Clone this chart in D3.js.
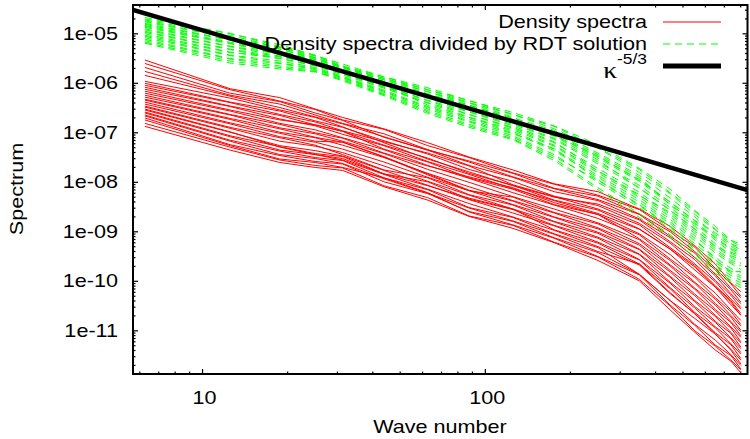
<!DOCTYPE html>
<html>
<head>
<meta charset="utf-8">
<script src="https://cdn.jsdelivr.net/npm/d3@7"></script>
<style>
  body { margin: 0; background: #fff; }
  svg { display: block; }
</style>
</head>
<body>
<svg id="chart" width="750" height="439"></svg>
<script>
const waveNumbers = [6.28, 12.57, 18.85, 25.13, 31.42, 43.98, 62.83, 87.96, 125.7, 175.9, 251.3, 351.9, 452.4, 552.9, 653.5, 741.4, 804.2];

// log10 of the density spectra (one row per curve)
const densityLog10 = [
  [-5.54,-6.12,-6.30,-6.53,-6.70,-6.93,-7.21,-7.50,-7.76,-8.04,-8.20,-8.55,-8.90,-9.29,-9.66,-10.04,-10.22],
  [-5.61,-6.14,-6.37,-6.54,-6.75,-6.94,-7.27,-7.51,-7.82,-8.05,-8.27,-8.56,-8.98,-9.32,-9.75,-10.06,-10.31],
  [-5.69,-6.21,-6.38,-6.61,-6.76,-7.10,-7.36,-7.58,-7.83,-8.13,-8.29,-8.65,-9.01,-9.41,-9.78,-10.15,-10.34],
  [-5.77,-6.25,-6.43,-6.65,-6.82,-7.03,-7.35,-7.60,-7.90,-8.14,-8.36,-8.66,-9.10,-9.44,-9.87,-10.18,-10.43],
  [-5.85,-6.27,-6.50,-6.69,-6.83,-7.09,-7.36,-7.67,-7.91,-8.20,-8.38,-8.75,-9.13,-9.53,-9.90,-10.26,-10.46],
  [-5.97,-6.31,-6.55,-6.70,-6.89,-7.21,-7.54,-7.80,-8.08,-8.31,-8.45,-8.77,-9.21,-9.57,-9.99,-10.29,-10.54],
  [-6.01,-6.39,-6.57,-6.77,-6.90,-7.17,-7.44,-7.75,-7.99,-8.29,-8.48,-8.84,-9.24,-9.66,-10.02,-10.37,-10.57],
  [-6.05,-6.40,-6.64,-6.79,-6.97,-7.19,-7.42,-7.68,-8.06,-8.30,-8.55,-8.87,-9.33,-9.69,-10.10,-10.40,-10.66],
  [-6.09,-6.47,-6.66,-6.85,-6.98,-7.26,-7.52,-7.83,-8.07,-8.37,-8.57,-8.95,-9.36,-9.78,-10.13,-10.48,-10.69],
  [-6.13,-6.48,-6.73,-6.87,-7.04,-7.27,-7.59,-7.85,-8.14,-8.38,-8.64,-8.96,-9.36,-9.72,-10.12,-10.43,-10.70],
  [-6.17,-6.55,-6.75,-6.85,-6.98,-7.34,-7.60,-7.92,-8.15,-8.46,-8.66,-9.05,-9.47,-9.90,-10.25,-10.59,-10.80],
  [-6.21,-6.57,-6.82,-6.95,-7.11,-7.35,-7.67,-7.93,-8.22,-8.47,-8.74,-9.07,-9.56,-9.93,-10.34,-10.62,-10.88],
  [-6.25,-6.64,-6.84,-7.01,-7.12,-7.42,-7.68,-7.90,-8.12,-8.42,-8.66,-9.15,-9.59,-10.03,-10.37,-10.70,-10.91],
  [-6.29,-6.65,-6.91,-7.03,-7.18,-7.43,-7.75,-8.01,-8.30,-8.55,-8.83,-9.17,-9.68,-10.05,-10.46,-10.73,-11.00],
  [-6.33,-6.72,-6.93,-7.10,-7.20,-7.50,-7.86,-8.18,-8.31,-8.62,-8.85,-9.25,-9.70,-10.15,-10.49,-10.82,-11.03],
  [-6.35,-6.74,-7.00,-7.11,-7.26,-7.51,-7.83,-8.10,-8.38,-8.63,-8.93,-9.28,-9.79,-10.17,-10.58,-10.84,-11.11],
  [-6.39,-6.81,-7.02,-7.18,-7.20,-7.49,-7.84,-8.17,-8.39,-8.71,-8.95,-9.36,-9.82,-10.27,-10.61,-10.93,-11.14],
  [-6.43,-6.83,-7.09,-7.20,-7.34,-7.60,-7.91,-8.18,-8.46,-8.72,-9.02,-9.37,-9.91,-10.30,-10.70,-10.95,-11.23],
  [-6.47,-6.90,-7.11,-7.26,-7.45,-7.76,-7.92,-8.26,-8.47,-8.80,-9.04,-9.46,-9.93,-10.40,-10.72,-11.04,-11.25],
  [-6.49,-6.92,-7.18,-7.28,-7.41,-7.68,-7.99,-8.27,-8.55,-8.81,-9.12,-9.47,-10.03,-10.42,-10.82,-11.06,-11.34],
  [-6.53,-6.99,-7.30,-7.45,-7.53,-7.84,-8.00,-8.35,-8.56,-8.88,-9.14,-9.57,-10.05,-10.52,-10.84,-11.15,-11.37],
  [-6.55,-7.00,-7.27,-7.37,-7.48,-7.77,-8.07,-8.36,-8.63,-8.89,-9.22,-9.58,-10.14,-10.55,-10.93,-11.17,-11.45],
  [-6.59,-7.07,-7.29,-7.43,-7.49,-7.84,-8.08,-8.33,-8.55,-8.97,-9.24,-9.66,-10.16,-10.64,-10.95,-11.27,-11.48],
  [-6.61,-7.09,-7.36,-7.45,-7.56,-7.85,-8.15,-8.44,-8.71,-8.98,-9.31,-9.68,-10.26,-10.66,-11.05,-11.29,-11.57],
  [-6.65,-7.16,-7.38,-7.51,-7.57,-7.92,-8.16,-8.52,-8.72,-9.05,-9.33,-9.87,-10.40,-10.76,-11.08,-11.38,-11.60],
  [-6.67,-7.18,-7.45,-7.53,-7.63,-7.94,-8.23,-8.53,-8.79,-9.06,-9.41,-9.66,-10.24,-10.67,-11.07,-11.40,-11.68],
  [-6.71,-7.25,-7.47,-7.59,-7.64,-8.00,-8.24,-8.60,-8.80,-9.13,-9.43,-9.87,-10.40,-10.88,-11.20,-11.49,-11.71],
  [-6.75,-7.27,-7.54,-7.61,-7.71,-7.92,-8.22,-8.61,-8.87,-9.14,-9.51,-9.88,-10.49,-10.90,-11.30,-11.51,-11.78],
  [-6.82,-7.30,-7.56,-7.67,-7.72,-8.08,-8.32,-8.69,-8.88,-9.22,-9.52,-9.97,-10.51,-11.01,-11.32,-11.60,-11.80],
  [-6.88,-7.36,-7.61,-7.71,-7.77,-8.10,-8.37,-8.70,-8.94,-9.23,-9.59,-10.00,-10.59,-11.04,-11.40,-11.62,-11.86]
];

// log10 of the density spectra divided by the RDT solution
const dividedLog10 = [
  [-4.68,-5.01,-5.23,-5.45,-5.62,-5.88,-6.10,-6.36,-6.60,-6.87,-7.25,-7.73,-8.15,-8.58,-8.90,-9.18,-9.26],
  [-4.71,-5.00,-5.27,-5.44,-5.66,-5.88,-6.14,-6.36,-6.64,-6.88,-7.31,-7.75,-8.22,-8.60,-8.96,-9.19,-9.31],
  [-4.73,-5.04,-5.29,-5.46,-5.67,-5.91,-6.14,-6.40,-6.64,-6.93,-7.32,-7.81,-8.24,-8.66,-8.97,-9.25,-9.33],
  [-4.75,-5.08,-5.29,-5.49,-5.68,-5.91,-6.18,-6.41,-6.69,-7.07,-7.48,-7.97,-8.41,-8.78,-9.03,-9.26,-9.38],
  [-4.77,-5.09,-5.32,-5.50,-5.69,-5.94,-6.18,-6.45,-6.71,-6.96,-7.42,-7.87,-8.33,-8.71,-9.07,-9.30,-9.42],
  [-4.80,-5.13,-5.32,-5.52,-5.70,-5.94,-6.22,-6.45,-6.73,-7.01,-7.45,-7.91,-8.47,-8.86,-9.11,-9.35,-9.43],
  [-4.82,-5.14,-5.36,-5.53,-5.70,-5.97,-6.24,-6.47,-6.75,-7.02,-7.49,-7.95,-8.41,-8.79,-9.14,-9.37,-9.49],
  [-4.84,-5.18,-5.36,-5.55,-5.73,-5.99,-6.24,-6.51,-6.77,-7.05,-7.52,-7.99,-8.45,-8.83,-9.18,-9.42,-9.50],
  [-4.86,-5.20,-5.38,-5.56,-5.74,-6.00,-6.28,-6.51,-6.79,-7.08,-7.56,-8.13,-8.58,-8.96,-9.31,-9.44,-9.56],
  [-4.88,-5.21,-5.42,-5.57,-5.74,-6.02,-6.30,-6.54,-6.82,-7.12,-7.60,-8.07,-8.52,-8.90,-9.25,-9.49,-9.57],
  [-4.91,-5.26,-5.42,-5.59,-5.77,-6.04,-6.31,-6.58,-6.84,-7.14,-7.64,-8.12,-8.57,-8.95,-9.30,-9.52,-9.64],
  [-4.93,-5.27,-5.46,-5.61,-5.77,-6.06,-6.35,-6.59,-6.87,-7.19,-7.78,-8.28,-8.62,-9.00,-9.35,-9.58,-9.66],
  [-4.96,-5.32,-5.47,-5.62,-5.80,-6.08,-6.36,-6.64,-6.90,-7.21,-7.73,-8.21,-8.66,-9.04,-9.39,-9.62,-9.70],
  [-4.98,-5.33,-5.51,-5.64,-5.82,-6.09,-6.40,-6.64,-6.92,-7.26,-7.78,-8.26,-8.71,-9.09,-9.44,-9.65,-9.77],
  [-5.01,-5.38,-5.51,-5.66,-5.84,-6.11,-6.41,-6.69,-6.95,-7.28,-7.82,-8.31,-8.76,-9.14,-9.58,-9.82,-9.81],
  [-5.04,-5.39,-5.48,-5.60,-5.77,-6.05,-6.45,-6.70,-6.98,-7.34,-7.87,-8.36,-8.81,-9.19,-9.53,-9.75,-9.83],
  [-5.06,-5.44,-5.56,-5.69,-5.87,-6.15,-6.48,-6.73,-7.01,-7.37,-7.91,-8.41,-8.85,-9.25,-9.58,-9.80,-9.90],
  [-5.09,-5.45,-5.60,-5.71,-5.89,-6.17,-6.50,-6.77,-7.03,-7.33,-7.96,-8.46,-8.90,-9.30,-9.63,-9.84,-9.94],
  [-5.12,-5.51,-5.61,-5.73,-5.90,-6.19,-6.53,-6.79,-7.07,-7.45,-8.01,-8.52,-8.96,-9.36,-9.68,-9.89,-9.99],
  [-5.15,-5.52,-5.66,-5.75,-5.92,-6.22,-6.56,-6.84,-7.10,-7.49,-7.97,-8.48,-8.91,-9.41,-9.74,-9.94,-10.04],
  [-5.18,-5.56,-5.69,-5.77,-5.94,-6.24,-6.59,-6.87,-7.13,-7.53,-8.12,-8.64,-9.07,-9.47,-9.79,-9.99,-10.09],
  [-5.20,-5.60,-5.72,-5.78,-5.96,-6.26,-6.62,-6.90,-7.15,-7.57,-8.16,-8.72,-9.11,-9.53,-9.85,-10.03,-10.14]
];

// kappa^-5/3 reference line, end points
const refWaveNumbers = [5.70, 849];
const refSpectrum = [2.96e-5, 6.8e-9];

const xTicks = [10, 100];
const xTickLabels = ["10", "100"];
const yTicks = [1e-11, 1e-10, 1e-9, 1e-8, 1e-7, 1e-6, 1e-5];
const yTickLabels = ["1e-11", "1e-10", "1e-09", "1e-08", "1e-07", "1e-06", "1e-05"];

const legendLabels = ["Density spectra", "Density spectra divided by RDT solution"];

const font = "'Liberation Sans', Arial, Helvetica, sans-serif";
const stretch = 1.2;
const plotLeft = 133, plotRight = 747.5, plotTop = 5, plotBottom = 374;

const svg = d3.select("#chart");

const x = d3.scaleLog().domain([5.70, 849]).range([plotLeft, plotRight]);
const y = d3.scaleLog().domain([1.31e-12, 3.73e-5]).range([plotBottom, plotTop]);

// minor tick positions
const xMinor = [];
[1, 10, 100].forEach(p => { for (let m = 2; m <= 9; m++) { const v = m * p; if (v > 5.70 && v < 849 && v !== 10 && v !== 100) xMinor.push(v); } });
const yMinor = [];
for (let e = -12; e <= -5; e++) { for (let m = 2; m <= 9; m++) { const v = m * Math.pow(10, e); if (v > 1.31e-12 && v < 3.73e-5) yMinor.push(v); } }

svg.append("defs").append("clipPath").attr("id", "plot-clip")
  .append("rect").attr("x", plotLeft).attr("y", plotTop).attr("width", plotRight - plotLeft).attr("height", plotBottom - plotTop);

function stretchText(sel, dx) {
  sel.each(function () {
    const t = d3.select(this);
    const tx = +t.attr("x") || 0;
    t.attr("x", null).attr("transform", `translate(${tx + (dx || 0)},0) scale(${stretch},1)`);
  });
}

function axis(gen, transform, labels) {
  const g = svg.append("g").attr("transform", transform).call(gen);
  g.select(".domain").remove();
  g.selectAll("line").attr("stroke", "#000").attr("stroke-width", 1.2);
  g.attr("font-family", font).attr("font-size", 18);
  g.selectAll("text").attr("fill", "#000");
  if (!labels) g.selectAll("text").remove();
  return g;
}

// axes with inward ticks, mirrored
const yLeft = axis(d3.axisLeft(y).tickValues(yTicks).tickFormat((d, i) => yTickLabels[i]).tickSize(-5).tickPadding(15), `translate(${plotLeft},0)`, true);
stretchText(yLeft.selectAll("text"));
axis(d3.axisLeft(y).tickValues(yMinor).tickFormat("").tickSize(-2.5), `translate(${plotLeft},0)`, false);
axis(d3.axisRight(y).tickValues(yTicks).tickFormat("").tickSize(-5), `translate(${plotRight},0)`, false);
axis(d3.axisRight(y).tickValues(yMinor).tickFormat("").tickSize(-2.5), `translate(${plotRight},0)`, false);

const xBottom = axis(d3.axisBottom(x).tickValues(xTicks).tickFormat((d, i) => xTickLabels[i]).tickSize(-5).tickPadding(17), `translate(0,${plotBottom})`, true);
stretchText(xBottom.selectAll("text"), 2);
axis(d3.axisBottom(x).tickValues(xMinor).tickFormat("").tickSize(-2.5), `translate(0,${plotBottom})`, false);
axis(d3.axisTop(x).tickValues(xTicks).tickFormat("").tickSize(-5), `translate(0,${plotTop})`, false);
axis(d3.axisTop(x).tickValues(xMinor).tickFormat("").tickSize(-2.5), `translate(0,${plotTop})`, false);

// curves
const spectrumLine = d3.line()
  .x((s, i) => x(waveNumbers[i]))
  .y(s => y(Math.pow(10, s)));

const plot = svg.append("g").attr("clip-path", "url(#plot-clip)");

plot.append("g")
  .attr("fill", "none")
  .attr("stroke", "#ff0000")
  .attr("stroke-width", 1)
  .selectAll("path")
  .data(densityLog10)
  .join("path")
  .attr("d", spectrumLine);

plot.append("g")
  .attr("fill", "none")
  .attr("stroke", "#00ff00")
  .attr("stroke-width", 1)
  .attr("stroke-dasharray", "7,5")
  .selectAll("path")
  .data(dividedLog10)
  .join("path")
  .attr("d", spectrumLine);

plot.append("path")
  .datum(refWaveNumbers.map((k, i) => [k, refSpectrum[i]]))
  .attr("fill", "none")
  .attr("stroke", "#000")
  .attr("stroke-width", 4.5)
  .attr("d", d3.line().x(d => x(d[0])).y(d => y(d[1])));

// border
svg.append("rect")
  .attr("x", plotLeft).attr("y", plotTop)
  .attr("width", plotRight - plotLeft).attr("height", plotBottom - plotTop)
  .attr("fill", "none").attr("stroke", "#000").attr("stroke-width", 2);

// legend
const legendRight = 647;
const sampleX = [663, 721];
const legendRows = [22, 44, 66];

legendLabels.forEach((label, i) => {
  svg.append("text")
    .attr("transform", `translate(${legendRight},${legendRows[i]}) scale(${stretch},1)`)
    .attr("dy", "0.35em")
    .attr("text-anchor", "end")
    .attr("font-family", font)
    .attr("font-size", 18)
    .text(label);
});

const kappa = svg.append("text")
  .attr("transform", `translate(${legendRight},${legendRows[2] + 12}) scale(${stretch},1)`)
  .attr("text-anchor", "end")
  .attr("font-family", font)
  .attr("font-size", 18);
kappa.append("tspan").attr("font-family", "'Liberation Serif', 'DejaVu Serif', serif").attr("font-size", 23).text("κ");
kappa.append("tspan").attr("font-size", 14.5).attr("dy", -14).text("-5/3");

svg.append("line").attr("x1", sampleX[0]).attr("x2", sampleX[1]).attr("y1", legendRows[0]).attr("y2", legendRows[0])
  .attr("stroke", "#ff0000").attr("stroke-width", 1);
svg.append("line").attr("x1", sampleX[0]).attr("x2", sampleX[1]).attr("y1", legendRows[1]).attr("y2", legendRows[1])
  .attr("stroke", "#00ff00").attr("stroke-width", 1).attr("stroke-dasharray", "7,5");
svg.append("line").attr("x1", sampleX[0]).attr("x2", sampleX[1]).attr("y1", legendRows[2]).attr("y2", legendRows[2])
  .attr("stroke", "#000").attr("stroke-width", 5);

// axis titles
svg.append("text")
  .attr("transform", `translate(440,433) scale(${stretch},1)`)
  .attr("text-anchor", "middle")
  .attr("font-family", font)
  .attr("font-size", 18)
  .text("Wave number");

svg.append("text")
  .attr("transform", `translate(23,189) rotate(-90) scale(${stretch},1)`)
  .attr("text-anchor", "middle")
  .attr("font-family", font)
  .attr("font-size", 18)
  .text("Spectrum");
</script>
</body>
</html>
